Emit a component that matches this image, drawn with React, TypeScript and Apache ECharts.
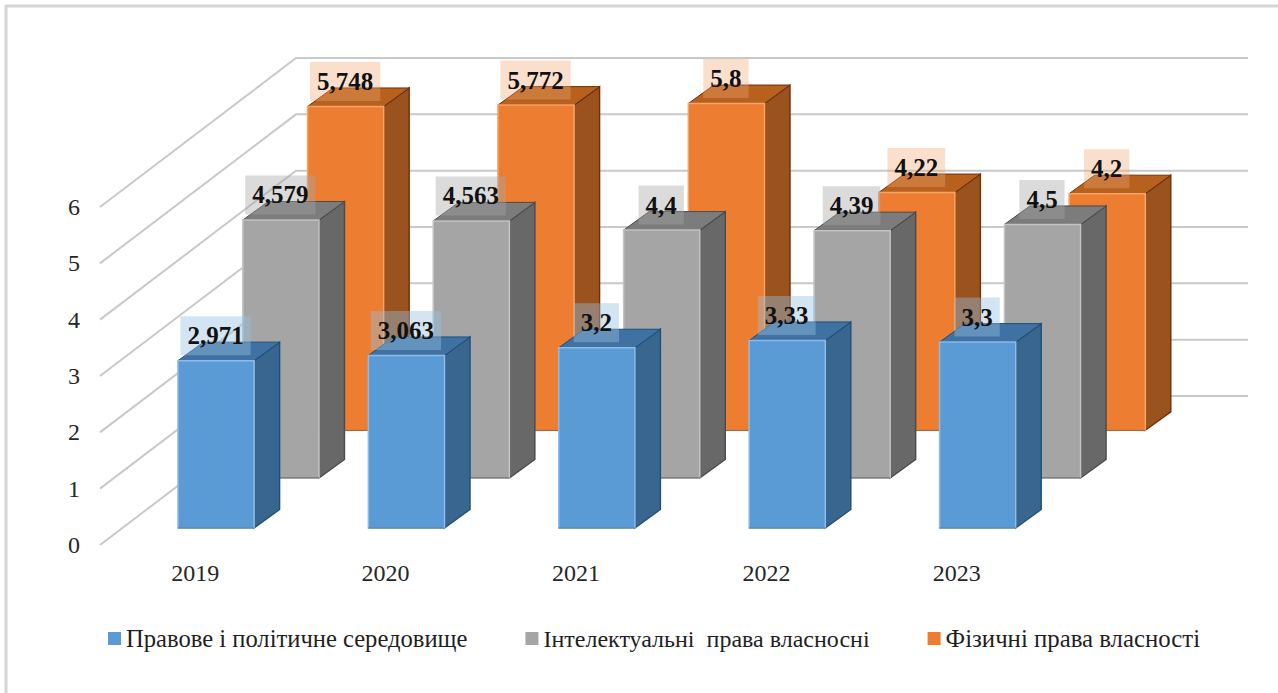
import React, { useEffect, useRef } from "react";
import * as echarts from "echarts";

const years = ["2019", "2020", "2021", "2022", "2023"];
const yTicks = [0, 1, 2, 3, 4, 5, 6];
const legalPolitical = [2.971, 3.063, 3.2, 3.33, 3.3];
const intellectual = [4.579, 4.563, 4.4, 4.39, 4.5];
const physical = [5.748, 5.772, 5.8, 4.22, 4.2];
const names = [
  "Правове і політичне середовище",
  "Інтелектуальні  права власносні",
  "Фізичні права власності",
];
const legendFontSizes = [24.6, 24, 24.8];

const SERIF = '"Liberation Serif", "Times New Roman", serif';
const DEPTH_X = 196;
const DEPTH_Y = 149;
const SIDE_X = 25.5;
const SIDE_Y = 18.5;

const palettes = [
  { t: 0.114, shift: -1.5, labelShift: -2, front: "#5B9BD5", edge: "#8DBCE6", side: "#39668F", top: "#3F72A3", dark: "#1F4E79", box: "rgba(150,190,225,0.42)" },
  { t: 0.45, shift: -2.5, labelShift: -3, front: "#A5A5A5", edge: "#C4C4C4", side: "#686868", top: "#7C7C7C", dark: "#4A4A4A", box: "rgba(165,165,165,0.4)" },
  { t: 0.77, shift: -0.5, labelShift: -1, front: "#ED7D31", edge: "#F7A468", side: "#9A531F", top: "#B8611F", dark: "#6E2F08", box: "rgba(240,165,115,0.36)" },
];

function barRenderer(p: (typeof palettes)[number]) {
  return (_params: any, api: any) => {
    const cat = api.value(0);
    const base = api.coord([cat, 0]);
    const head = api.coord([cat, api.value(1)]);
    const w = api.size([1, 0])[0] * 0.4;
    const x0 = base[0] - w / 2 + DEPTH_X * p.t + p.shift;
    const x1 = x0 + w;
    const y0 = base[1] - DEPTH_Y * p.t;
    const y1 = head[1] - DEPTH_Y * p.t;
    return {
      type: "group",
      children: [
        {
          type: "polygon",
          shape: { points: [[x1, y0], [x1 + SIDE_X, y0 - SIDE_Y], [x1 + SIDE_X, y1 - SIDE_Y], [x1, y1]] },
          style: { fill: p.side, stroke: p.dark, lineWidth: 1.4 },
        },
        {
          type: "polygon",
          shape: { points: [[x0, y1], [x1, y1], [x1 + SIDE_X, y1 - SIDE_Y], [x0 + SIDE_X, y1 - SIDE_Y]] },
          style: { fill: p.top, stroke: p.dark, lineWidth: 1 },
        },
        {
          type: "rect",
          shape: { x: x0, y: y1, width: w, height: y0 - y1 },
          style: { fill: p.front, stroke: p.edge, lineWidth: 1.5 },
        },
        {
          type: "line",
          shape: { x1: x0, y1: y0, x2: x1, y2: y0 },
          style: { stroke: p.dark, lineWidth: 1.2, opacity: 0.7 },
        },
      ],
    };
  };
}

function labelRenderer(p: (typeof palettes)[number]) {
  return (_params: any, api: any) => {
    const cat = api.value(0);
    const v = api.value(1);
    const base = api.coord([cat, 0]);
    const head = api.coord([cat, v]);
    const cx = base[0] + DEPTH_X * p.t + p.labelShift;
    const cy = head[1] - DEPTH_Y * p.t - 25;
    return {
      type: "text",
      x: cx,
      y: cy,
      style: {
        text: String(v).replace(".", ","),
        x: 0,
        y: 0,
        align: "center",
        verticalAlign: "middle",
        fill: "#111111",
        font: `bold 25px ${SERIF}`,
        backgroundColor: p.box,
        padding: [8, 7, 6, 7],
      },
    };
  };
}

function gridRenderer(params: any, api: any) {
  const cs = params.coordSys;
  const y = api.coord([0, api.value(1)])[1];
  return {
    type: "polyline",
    shape: {
      points: [
        [cs.x, y],
        [cs.x + DEPTH_X, y - DEPTH_Y],
        [cs.x + cs.width + DEPTH_X, y - DEPTH_Y],
      ],
    },
    style: { fill: "none", stroke: "#C9C9C9", lineWidth: 2 },
  };
}

export default function App() {
  const ref = useRef<HTMLDivElement>(null);
  useEffect(() => {
    const chart = echarts.init(ref.current!, undefined, { renderer: "svg" });
    const sets = [legalPolitical, intellectual, physical];
    const order = [2, 1, 0];
    chart.setOption({
      animation: false,
      backgroundColor: "#ffffff",
      textStyle: { fontFamily: SERIF },
      grid: { left: 100, top: 207, width: 952, height: 338 },
      legend: {
        left: 103,
        top: 621,
        icon: "rect",
        itemWidth: 13,
        itemHeight: 13,
        itemGap: 58,
        selectedMode: false,
        data: names.map((name, i) => ({
          name,
          textStyle: { fontFamily: SERIF, fontSize: legendFontSizes[i], color: "#1f1f1f" },
        })),
        textStyle: { fontFamily: SERIF, fontSize: 24, color: "#1f1f1f" },
      },
      graphic: [
        { type: "line", silent: true, shape: { x1: 5, y1: 6, x2: 1278, y2: 6 }, style: { stroke: "#D6D6D6", lineWidth: 3 } },
        { type: "line", silent: true, shape: { x1: 6, y1: 5, x2: 6, y2: 693 }, style: { stroke: "#D6D6D6", lineWidth: 3 } },
      ],
      xAxis: {
        type: "category",
        data: years,
        axisLine: { show: false },
        axisTick: { show: false },
        axisLabel: { margin: 16, fontFamily: SERIF, fontSize: 24, color: "#262626" },
      },
      yAxis: {
        type: "value",
        min: 0,
        max: 6,
        interval: 1,
        splitLine: { show: false },
        axisLine: { show: false },
        axisTick: { show: false },
        axisLabel: { margin: 20, fontFamily: SERIF, fontSize: 24, color: "#262626" },
      },
      series: [
        {
          type: "custom",
          name: "grid",
          silent: true,
          z: 1,
          renderItem: gridRenderer,
          data: yTicks.map((v) => [0, v]),
        },
        ...order.map((k) => ({
          type: "custom",
          name: names[k],
          z: 2 + (2 - k),
          itemStyle: { color: palettes[k].front },
          renderItem: barRenderer(palettes[k]),
          data: sets[k].map((v, i) => [i, v]),
        })),
        ...order.map((k) => ({
          type: "custom",
          name: "labels-" + k,
          silent: true,
          z: 10,
          renderItem: labelRenderer(palettes[k]),
          data: sets[k].map((v, i) => [i, v]),
        })),
      ],
    });
    return () => chart.dispose();
  }, []);
  return <div ref={ref} style={{ position: "fixed", left: 0, top: 0, width: 1278, height: 693 }} />;
}
